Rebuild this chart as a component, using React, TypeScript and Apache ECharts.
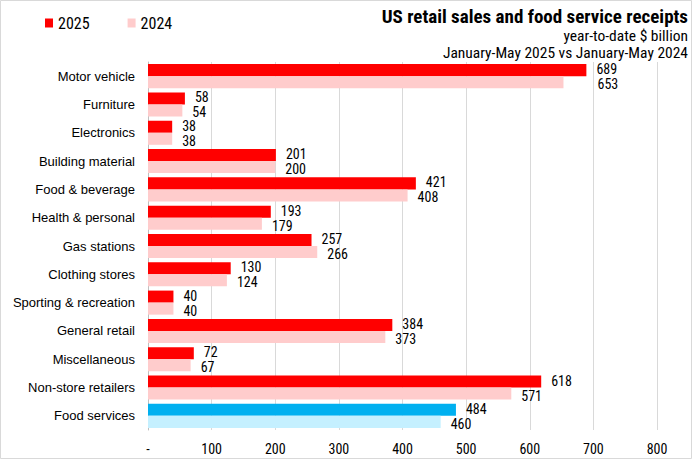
import React, { useEffect, useRef } from "react";
import * as echarts from "echarts";

const categories = [
  "Motor vehicle",
  "Furniture",
  "Electronics",
  "Building material",
  "Food & beverage",
  "Health & personal",
  "Gas stations",
  "Clothing stores",
  "Sporting & recreation",
  "General retail",
  "Miscellaneous",
  "Non-store retailers",
  "Food services",
];
const values2025 = [689, 58, 38, 201, 421, 193, 257, 130, 40, 384, 72, 618, 484];
const values2024 = [653, 54, 38, 200, 408, 179, 266, 124, 40, 373, 67, 571, 460];
const highlightCategory = "Food services";

const NARROW = "'Liberation Sans Narrow', 'Arial Narrow', 'Roboto Condensed', sans-serif";
const REGULAR = "'Liberation Sans', Arial, sans-serif";

export default function App() {
  const ref = useRef<HTMLDivElement>(null);
  useEffect(() => {
    document.body.style.margin = "0";
    if (!ref.current) return;
    const chart = echarts.init(ref.current, undefined, { renderer: "svg" });
    const labelBase = {
      show: true,
      position: "right",
      distance: 10,
      fontFamily: NARROW,
      fontSize: 14,
      lineHeight: 13,
      color: "#000",
    };
    chart.setOption({
      animation: false,
      backgroundColor: "#fff",
      title: [
        {
          text: "US retail sales and food service receipts",
          right: 4,
          top: 7,
          padding: 0,
          textStyle: { fontFamily: NARROW, fontWeight: "bold", fontSize: 19, lineHeight: 19, color: "#000" },
        },
        {
          text: "year-to-date $ billion",
          right: 4,
          top: 28,
          padding: 0,
          textStyle: { fontFamily: NARROW, fontWeight: "normal", fontSize: 15.5, lineHeight: 15, color: "#000" },
        },
        {
          text: "January-May 2025 vs January-May 2024",
          right: 4,
          top: 45,
          padding: 0,
          textStyle: { fontFamily: NARROW, fontWeight: "normal", fontSize: 15.5, lineHeight: 15, color: "#000" },
        },
      ],
      legend: {
        left: 40,
        top: 10,
        itemWidth: 8,
        itemHeight: 9,
        itemGap: 38,
        icon: "rect",
        textStyle: { fontFamily: NARROW, fontSize: 16, color: "#000" },
        data: [
          { name: "2025", itemStyle: { color: "#FF0000" } },
          { name: "2024", itemStyle: { color: "#FFCCCC" } },
        ],
      },
      graphic: [
        {
          type: "rect",
          shape: { x: 0.5, y: 0.5, width: 691, height: 458 },
          style: { fill: "none", stroke: "#D9D9D9", lineWidth: 1 },
          silent: true,
        },
      ],
      grid: { left: 148, right: 35, top: 62, bottom: 29, containLabel: false },
      xAxis: {
        type: "value",
        min: 0,
        max: 800,
        interval: 100,
        axisLine: { show: false },
        axisTick: { show: false },
        splitLine: { lineStyle: { color: "#D9D9D9", width: 1 } },
        axisLabel: {
          margin: 12,
          fontFamily: NARROW,
          fontSize: 14,
          color: "#000",
          formatter: (v: number) => (v === 0 ? "-" : String(v)),
        },
      },
      yAxis: {
        type: "category",
        inverse: true,
        data: categories,
        axisLine: { show: true, lineStyle: { color: "#BFBFBF" } },
        axisTick: { show: false },
        axisLabel: { margin: 13, fontFamily: REGULAR, fontSize: 13, color: "#000" },
      },
      series: [
        {
          name: "2025",
          type: "bar",
          barGap: "0%",
          barCategoryGap: "15%",
          data: values2025.map((v, i) => ({
            value: v,
            itemStyle: { color: categories[i] === highlightCategory ? "#00B0F0" : "#FF0000" },
          })),
          label: { ...labelBase, offset: [0, -1] },
        },
        {
          name: "2024",
          type: "bar",
          barGap: "0%",
          barCategoryGap: "15%",
          data: values2024.map((v, i) => ({
            value: v,
            itemStyle: { color: categories[i] === highlightCategory ? "#C5F0FF" : "#FFCCCC" },
            ...(i === 0 ? { label: { offset: [24, 2] } } : {}),
          })),
          label: { ...labelBase, offset: [0, 2] },
        },
      ],
    });
    return () => chart.dispose();
  }, []);
  return <div ref={ref} style={{ width: 692, height: 459 }} />;
}
